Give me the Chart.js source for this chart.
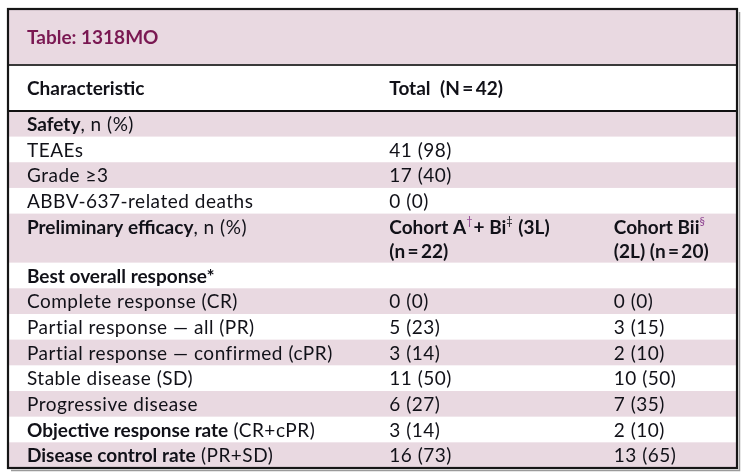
<!DOCTYPE html>
<html>
<head>
<meta charset="utf-8">
<script src="https://cdn.jsdelivr.net/npm/chart.js@4.4.1/dist/chart.umd.min.js"></script>
<style>
  html, body { margin: 0; padding: 0; background: #fff; }
  #wrap { width: 747px; height: 476px; }
</style>
</head>
<body>
<div id="wrap"><canvas id="tableChart" width="747" height="476"></canvas></div>
<script>
// table content
const tableTitle = 'Table: 1318MO';
const headCharacteristic = 'Characteristic';
const headTotal = 'Total\u2002(N\u2009=\u200942)';

const safetyLabels = ['TEAEs', 'Grade \u22653', 'ABBV-637-related deaths'];
const safetyN = [41, 17, 0];
const safetyPct = [98, 40, 0];

const responseLabels = [
    'Complete response (CR)',
    'Partial response \u2014 all (PR)',
    'Partial response \u2014 confirmed (cPR)',
    'Stable disease (SD)',
    'Progressive disease'
];
const cohort3LN = [0, 5, 3, 11, 6];
const cohort3LPct = [0, 23, 14, 50, 27];
const cohort2LN = [0, 3, 2, 10, 7];
const cohort2LPct = [0, 15, 10, 50, 35];

const rateNames = ['Objective response rate', 'Disease control rate'];
const rateDefs = [' (CR+cPR)', ' (PR+SD)'];
const rate3LN = [3, 16];
const rate3LPct = [14, 73];
const rate2LN = [2, 13];
const rate2LPct = [10, 65];

const PINK = '#e9d9e1';
const INK = '#111118';
const TITLE_INK = '#7a1852';
const SUP_INK = '#8b3f8f';
const FONT = 'Lato, "Open Sans", sans-serif';
const FONT_PX = 19;

const cell = (n, p) => n + ' (' + p + ')';
const txt = (t, b) => [[{ t, b: !!b }]];

// rows: h = height in row units, fill = shaded, cols = [col1, col2, col3] (lines of runs)
const rows = [];
rows.push({ kind: 'title', h: 2.18, fill: true, cols: [[[{ t: tableTitle, b: true, c: TITLE_INK }]], null, null] });
rows.push({ kind: 'header', h: 1.79, fill: false, cols: [txt(headCharacteristic, true), txt(headTotal, true), null] });

const body = [];
body.push([[[{ t: 'Safety', b: true }, { t: ', n (%)' }]], null, null]);
safetyLabels.forEach((lab, i) => {
    body.push([txt(lab), txt(cell(safetyN[i], safetyPct[i])), null]);
});
body.push([
    [[{ t: 'Preliminary efficacy', b: true }, { t: ', n (%)' }]],
    [[{ t: 'Cohort A', b: true }, { t: '\u2020', sup: true, c: SUP_INK }, { t: '+ Bi', b: true }, { t: '\u2021', sup: true }, { t: ' (3L)', b: true }],
     [{ t: '(n\u2009=\u200922)', b: true }]],
    [[{ t: 'Cohort Bii', b: true }, { t: '\u00a7', sup: true, c: SUP_INK }],
     [{ t: '(2L) (n\u2009=\u200920)', b: true }]]
]);
body.push([txt('Best overall response*', true), null, null]);
responseLabels.forEach((lab, i) => {
    body.push([txt(lab), txt(cell(cohort3LN[i], cohort3LPct[i])), txt(cell(cohort2LN[i], cohort2LPct[i]))]);
});
rateNames.forEach((name, i) => {
    body.push([
        [[{ t: name, b: true }, { t: rateDefs[i] }]],
        txt(cell(rate3LN[i], rate3LPct[i])),
        txt(cell(rate2LN[i], rate2LPct[i]))
    ]);
});
body.forEach((cols, i) => {
    const lines = Math.max(...cols.map(c => (c ? c.length : 0)));
    rows.push({ kind: 'body', h: lines > 1 ? 1.91 : 1, fill: i % 2 === 0, cols });
});

const totalUnits = rows.reduce((s, r) => s + r.h, 0);
const colStarts = [2.6, 52.3, 83.1]; // x positions, percent of table width

function drawRuns(ctx, x, y, runs) {
    runs.forEach(r => {
        const size = r.sup ? 11 : FONT_PX;
        ctx.font = (r.b ? 'bold ' : '') + size + 'px ' + FONT;
        ctx.letterSpacing = r.b || r.sup ? '0px' : '0.5px';
        ctx.fillStyle = r.c || INK;
        ctx.textBaseline = 'middle';
        ctx.fillText(r.t, x, r.sup ? y - 6 : y);
        x += ctx.measureText(r.t).width + (r.sup ? 1 : 0);
    });
    ctx.letterSpacing = '0px';
}

const tablePlugin = {
    id: 'tablePlugin',
    beforeDraw(chart) {
        const { ctx, scales: { x, y } } = chart;
        const left = x.getPixelForValue(0);
        const right = x.getPixelForValue(100);
        const unit = Math.abs(y.getPixelForValue(1) - y.getPixelForValue(0));
        let acc = 0;
        const bounds = [];
        ctx.save();
        rows.forEach(r => {
            const top = y.getPixelForValue(acc);
            const bot = y.getPixelForValue(acc + r.h);
            bounds.push(bot);
            if (r.fill) {
                ctx.fillStyle = PINK;
                ctx.fillRect(left, top, right - left, bot - top);
            }
            r.cols.forEach((lines, ci) => {
                if (!lines) return;
                const cx = x.getPixelForValue(colStarts[ci]);
                lines.forEach((runs, li) => {
                    let cy;
                    if (r.kind === 'body') {
                        cy = r.h > 1 ? top + (0.55 + li * 0.94) * unit : (top + bot) / 2 + 1;
                    } else {
                        cy = (top + bot) / 2 + 1;
                    }
                    drawRuns(ctx, cx, cy, runs);
                });
            });
            acc += r.h;
        });

        const top = y.getPixelForValue(0);
        const bottom = y.getPixelForValue(totalUnits);
        // shadow
        ctx.strokeStyle = '#9a9a9a';
        ctx.lineWidth = 1.5;
        ctx.beginPath();
        ctx.moveTo(right + 2.5, top + 3);
        ctx.lineTo(right + 2.5, bottom + 2.5);
        ctx.lineTo(left + 3, bottom + 2.5);
        ctx.stroke();
        // separators
        ctx.strokeStyle = '#3a3a3a';
        ctx.lineWidth = 2;
        ctx.beginPath();
        ctx.moveTo(left, bounds[0]);
        ctx.lineTo(right, bounds[0]);
        ctx.stroke();
        ctx.strokeStyle = '#111';
        ctx.beginPath();
        ctx.moveTo(left, bounds[1]);
        ctx.lineTo(right, bounds[1]);
        ctx.stroke();
        // outer frame
        ctx.lineWidth = 2.2;
        ctx.strokeStyle = '#161616';
        ctx.strokeRect(left, top, right - left, bottom - top);
        ctx.restore();
    }
};

new Chart(document.getElementById('tableChart'), {
    type: 'scatter',
    data: { datasets: [{ data: [] }] },
    options: {
        responsive: false,
        animation: false,
        devicePixelRatio: 1,
        layout: { padding: { left: 8, right: 10, top: 9, bottom: 8 } },
        plugins: { legend: { display: false }, tooltip: { enabled: false } },
        scales: {
            x: { type: 'linear', min: 0, max: 100, display: false },
            y: { type: 'linear', min: 0, max: totalUnits, reverse: true, display: false }
        }
    },
    plugins: [tablePlugin]
});
</script>
</body>
</html>
